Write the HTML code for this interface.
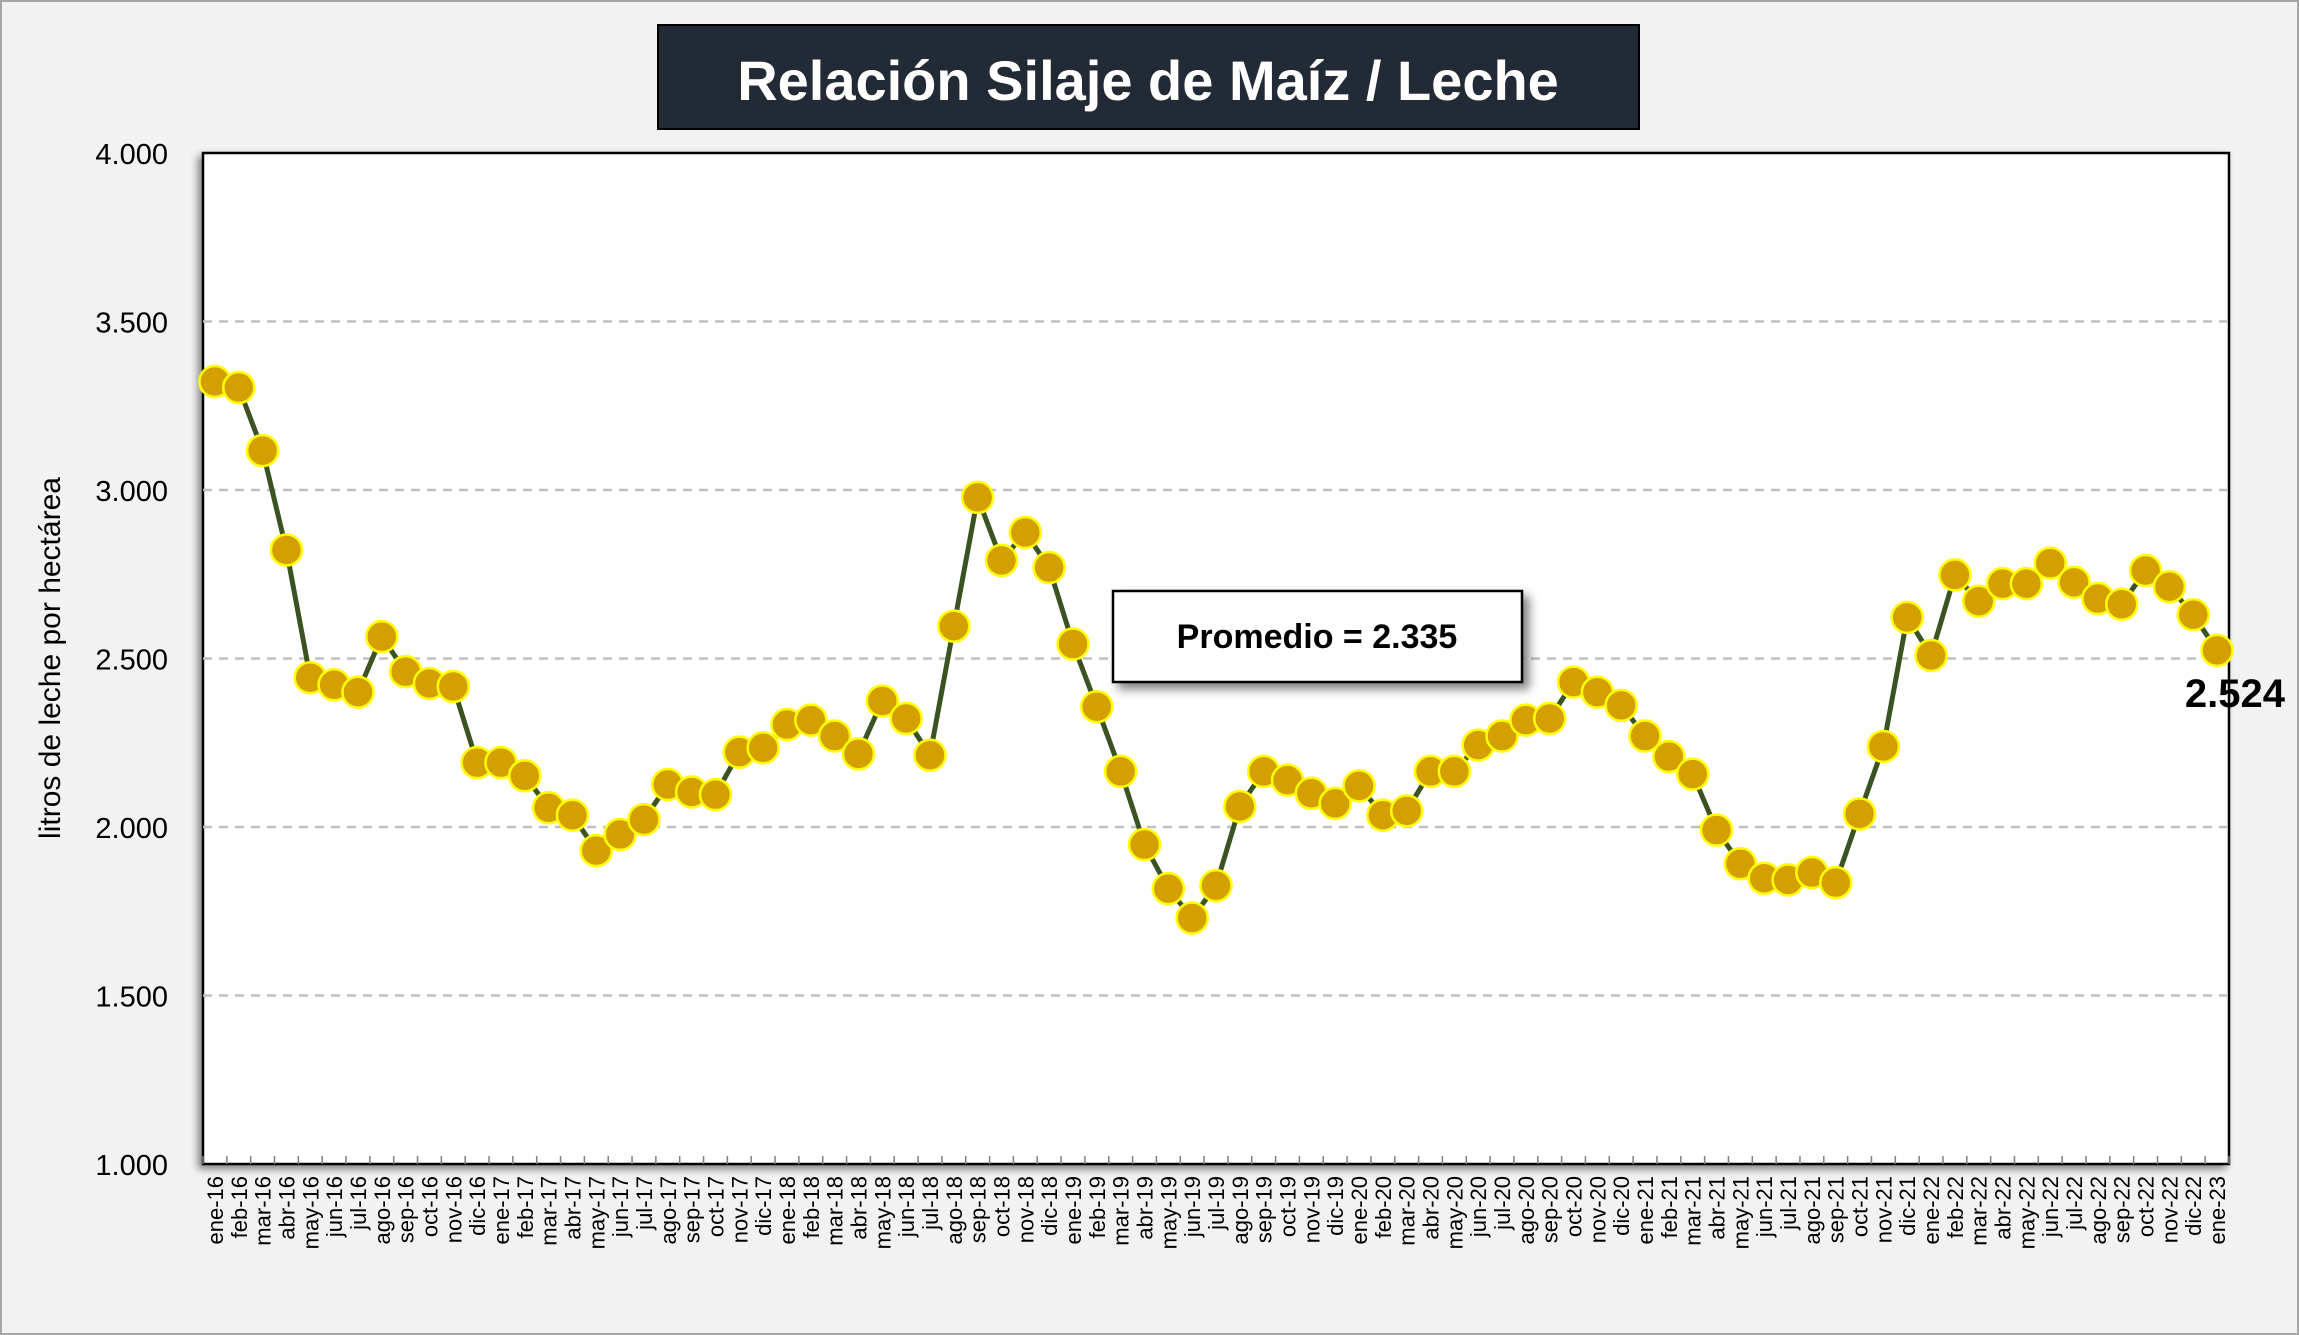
<!DOCTYPE html>
<html><head><meta charset="utf-8"><style>
html,body{margin:0;padding:0;background:#f2f2f2;}
svg{display:block;}
</style></head><body>
<svg id="chart" width="2299" height="1335" viewBox="0 0 2299 1335" xmlns="http://www.w3.org/2000/svg">
<defs>
<filter id="sh" x="-5%" y="-5%" width="115%" height="115%"><feDropShadow dx="-4" dy="4" stdDeviation="4" flood-color="#000" flood-opacity="0.45"/></filter>
<filter id="sh2" x="-10%" y="-10%" width="130%" height="140%"><feDropShadow dx="6" dy="6" stdDeviation="5" flood-color="#000" flood-opacity="0.5"/></filter>
</defs>
<rect x="1" y="1" width="2297" height="1333" fill="#f2f2f2" stroke="#a6a6a6" stroke-width="2"/>
<rect x="658" y="25" width="981" height="104" fill="#222a36" stroke="#000" stroke-width="2"/>
<text x="1148" y="100" text-anchor="middle" font-family="Liberation Sans, sans-serif" font-weight="bold" font-size="56" fill="#fff">Relación Silaje de Maíz / Leche</text>
<rect x="203" y="153" width="2026" height="1011" fill="#fff" stroke="#000" stroke-width="2.5" filter="url(#sh)"/>
<g id="grid"></g><g id="yticks"></g><g id="xticks"></g><g id="series"></g>
<text transform="translate(60,658) rotate(-90)" text-anchor="middle" font-family="Liberation Sans, sans-serif" font-size="30" fill="#000">litros de leche por hectárea</text>
<rect x="1113" y="591" width="409" height="91" fill="#fff" stroke="#000" stroke-width="2.5" filter="url(#sh2)"/>
<text x="1317" y="648" text-anchor="middle" font-family="Liberation Sans, sans-serif" font-weight="bold" font-size="34" fill="#000">Promedio = 2.335</text>
<text x="2285" y="707" text-anchor="end" font-family="Liberation Sans, sans-serif" font-weight="bold" font-size="40" fill="#000">2.524</text>
</svg>
<script>
const categories = ["ene-16","feb-16","mar-16","abr-16","may-16","jun-16","jul-16","ago-16","sep-16","oct-16","nov-16","dic-16","ene-17","feb-17","mar-17","abr-17","may-17","jun-17","jul-17","ago-17","sep-17","oct-17","nov-17","dic-17","ene-18","feb-18","mar-18","abr-18","may-18","jun-18","jul-18","ago-18","sep-18","oct-18","nov-18","dic-18","ene-19","feb-19","mar-19","abr-19","may-19","jun-19","jul-19","ago-19","sep-19","oct-19","nov-19","dic-19","ene-20","feb-20","mar-20","abr-20","may-20","jun-20","jul-20","ago-20","sep-20","oct-20","nov-20","dic-20","ene-21","feb-21","mar-21","abr-21","may-21","jun-21","jul-21","ago-21","sep-21","oct-21","nov-21","dic-21","ene-22","feb-22","mar-22","abr-22","may-22","jun-22","jul-22","ago-22","sep-22","oct-22","nov-22","dic-22","ene-23"];
const values = [3322,3304,3117,2822,2443,2422,2400,2565,2461,2426,2417,2191,2191,2152,2057,2035,1930,1978,2022,2126,2104,2096,2222,2235,2304,2317,2270,2217,2374,2322,2213,2596,2978,2791,2874,2770,2543,2357,2165,1948,1817,1730,1826,2061,2165,2139,2100,2070,2122,2035,2048,2165,2165,2243,2270,2317,2322,2430,2400,2361,2270,2209,2157,1991,1891,1848,1843,1865,1835,2039,2239,2622,2509,2748,2670,2722,2722,2783,2726,2678,2661,2761,2713,2630,2524];
const yTicks = [1000,1500,2000,2500,3000,3500,4000];
const yTickLabels = ["1.000","1.500","2.000","2.500","3.000","3.500","4.000"];

const NS="http://www.w3.org/2000/svg";
const L=203,R=2229,T=153,B=1164,YMIN=1000,YMAX=4000;
const step=(R-L)/categories.length;
function xPos(i){return L+(i+0.5)*step;}
function yPos(v){return B-(v-YMIN)/(YMAX-YMIN)*(B-T);}
function mk(tag,attrs,parent){const e=document.createElementNS(NS,tag);for(const k in attrs)e.setAttribute(k,attrs[k]);parent.appendChild(e);return e;}
const grid=document.getElementById('grid'),yt=document.getElementById('yticks'),xt=document.getElementById('xticks'),ser=document.getElementById('series');
yTicks.forEach((v,i)=>{
  if(v>YMIN&&v<YMAX){const g=mk('line',{x1:L,x2:R,y1:yPos(v),y2:yPos(v),stroke:'#c0c0c0','stroke-width':2.5,'stroke-dasharray':'9 7'},grid);
  
  }
  const t=mk('text',{x:168,y:yPos(v)+11,'text-anchor':'end','font-family':'Liberation Sans, sans-serif','font-size':29,fill:'#000'},yt);
  t.textContent=yTickLabels[i];
  
  
});
for(let i=0;i<=categories.length;i++){
  const x=L+i*step;
  const tk=mk('line',{x1:x,x2:x,y1:B,y2:B-8,stroke:'#808080','stroke-width':1.5},xt);
  
  
}
categories.forEach((c,i)=>{
  const t=mk('text',{transform:`translate(${xPos(i)+8},1176) rotate(-90)`,'text-anchor':'end','font-family':'Liberation Sans, sans-serif','font-size':22,fill:'#000'},xt);
  t.textContent=c;
  
  
});
const pts=values.map((v,i)=>xPos(i)+','+yPos(v)).join(' ');
const line=mk('polyline',{points:pts,fill:'none',stroke:'#3b5323','stroke-width':5,'stroke-linejoin':'round'},ser);


values.forEach((v,i)=>{
  const c=mk('circle',{cx:xPos(i),cy:yPos(v),r:15.5,fill:'#d4a000',stroke:'#ffff00','stroke-width':2.5},ser);
  
  
});
</script>
</body></html>
